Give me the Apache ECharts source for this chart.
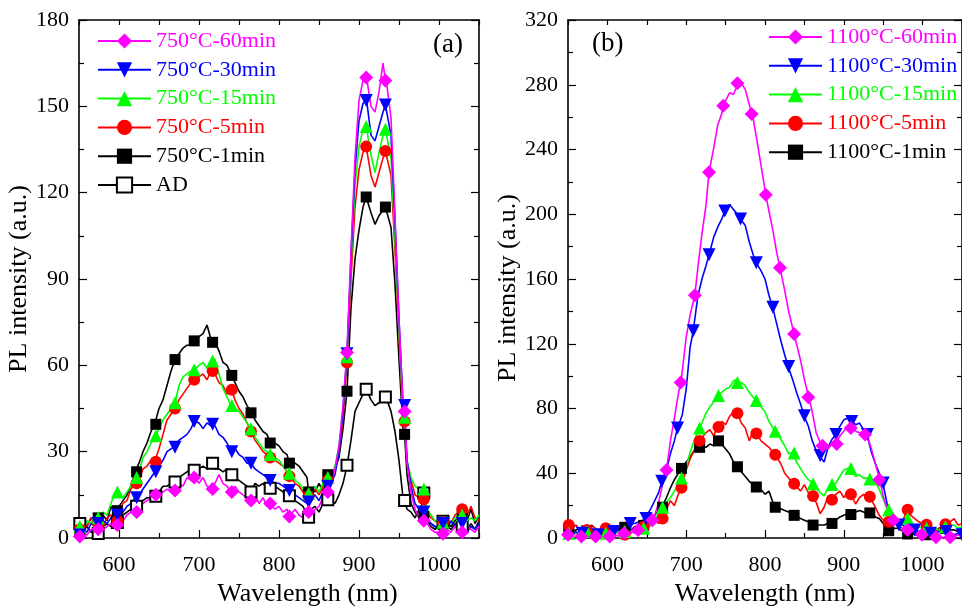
<!DOCTYPE html>
<html><head><meta charset="utf-8">
<script src="https://cdn.jsdelivr.net/npm/echarts@6/dist/echarts.min.js"></script>
<style>html,body{margin:0;padding:0;background:#fff}#c{width:962px;height:612px}</style>
</head><body><div id="c"></div><script>
// wavelength grid (nm) for the sampled spectra
const wl = [550,555,560,565,570,575,580,585,590,595,600,605,610,615,620,625,630,635,640,645,650,655,660,665,670,675,680,685,690,695,700,705,710,715,720,725,730,735,740,745,750,755,760,765,770,775,780,785,790,795,800,805,810,815,820,825,830,835,840,845,850,855,860,865,870,875,880,885,890,895,900,905,910,915,920,925,930,935,940,945,950,955,960,965,970,975,980,985,990,995,1000,1005,1010,1015,1020,1025,1030,1035,1040,1045,1050];
// marker wavelengths
const mk24 = [551,574,598,622,646,670,694,717,741,765,789,813,837,861,885,909,933,957,981,1005,1029];
const mkB30 = [568,588,608,629,649,669,689,709,729,749,769,789,810,830,850,870,890,910,930,950,970,990,1010,1030,1050];
const mkB60 = [550,567,585,603,621,639,657,675,693,711,729,747,765,783,801,819,837,855,873,891,909,927,945,963,981,999,1017,1035];

// panel (a) spectra
const a60 = [0,2,1,3,2,3,3,4,5,4, 5,6,8,9,9,11,12,13,14,15, 15,16,17,16,17,19,18,21,20,21, 19,21,18,17,19,22,19,18,16,18, 16,15,14,13,15,12,14,11,12,10, 11,9,10,8,10,8,7,9,8,10, 11,14,16,18,24,32,46,65,100,132, 152,159,159,150,148,155,165,157,146,112, 76,46,26,16,10,7,6,5,3,2, 2,1,3,2,4,3,2,4,3,2, 4];
const a30 = [1,3,2,5,4,5,6,5,7,8, 8,9,11,12,14,15,17,19,21,23, 25,27,30,31,32,34,35,36,38,40, 40,38,40,39,39,36,35,33,30,31, 29,28,26,26,24,23,22,21,20,19, 19,18,17,16,15,14,13,12,14,15, 13,16,18,19,22,30,44,64,98,128, 145,151,151,140,138,143,148,150,140,110, 76,47,27,18,12,10,9,7,5,4, 4,5,3,6,4,3,5,2,4,3, 5];
const a15 = [4,3,6,5,8,7,9,8,12,16, 15,14,16,18,20,23,28,30,33,35, 38,41,43,45,48,53,56,57,58,59, 60,61,59,62,62,57,52,49,46,45, 44,42,40,38,35,33,31,30,29,28, 27,25,23,22,20,19,17,15,16,18, 16,19,21,22,25,32,45,63,95,122, 136,142,143,133,127,134,140,142,132,104, 72,44,27,21,18,17,17,10,8,6, 6,5,6,5,7,8,8,6,7,6, 8];
const a5 = [3,6,4,7,5,6,4,7,8,7, 9,12,13,17,19,20,24,25,27,27, 31,36,41,43,45,48,50,52,54,55, 56,57,55,58,57,54,53,50,52,48, 45,43,40,37,34,32,30,29,28,27, 26,25,23,21,19,18,16,14,16,17, 15,18,20,21,24,30,42,61,90,115, 128,134,136,126,122,127,132,134,126,100, 70,42,26,20,15,14,13,9,7,6, 5,5,6,5,8,9,10,8,11,7, 6];
const a1 = [2,5,4,7,6,7,8,6,11,9, 11,13,15,18,23,26,30,33,37,40, 45,48,53,58,62,64,66,67,67,69, 70,71,74,69,68,65,61,60,57,54, 51,49,46,44,41,39,37,36,34,33, 32,30,29,27,26,25,23,21,17,16, 19,16,21,22,24,28,38,51,80,97, 107,115,118,113,109,112,114,115,108,88, 62,38,22,12,9,7,7.5,6,5,4, 3,4,5,4,6,7,8,6,10,5, 8];
const aAD = [5,3,4,2,3,2,4,5,4,6, 6,8,9,10,11,12,13,14,14,15, 16,18,18,19,20,21,22,23,24,23, 24,25,24,26,24,24,23,24,22,21, 20,19,18,16,19,18,19,17,17,18, 17,16,15,14,13,12,11,8,10,11, 9,12,13,13,12,15,19,25,34,44, 47,50,52,48,46,47,49,48,44,37, 27,14,10,9,7,10,12,6,4,3, 4,6,4,3,5,4,4,3,5,3, 6];
// panel (a) marker values (at mk24)
const a60m = [0.5,3,4.5,9,15,16.5,21,17,16,13,12,7.5,9,16,64.5,160,159,44,6,1.5,2];
const a30m = [1,5,8,14,23,31.5,40.5,39.5,30,26,20,16.5,12.5,18,64,152,150.5,46,9,5,5];
const a15m = [4,7,16,21,35.5,47,58.5,61.5,46,38,29,22.5,15.5,21,63,143,142,42,17,5.5,8];
const a5m = [3,5,6,19,26.5,45,55,58,51.5,37,28,21.5,14.5,20,61,136,134.5,40.5,13.5,5.5,10];
const a1m = [2,7,9.5,23,39.5,62,68.5,68,56.5,43.5,33,26,16,22,51,118.5,115,36,7.5,5,7.5];
const aADm = [5,1.6,5.4,11,14.5,19.5,23.5,26,22,16,17.3,14.7,7.2,13.3,25.3,51.7,49,13,15.6,5.8,4];

// panel (b) spectra
const b60 = [2,1,0,2,1,0,2,1,2,0, 1,1,2,1,3,2,4,3,5,5, 7,9,14,22,33,42,60,74,89,103, 124,138,148,168,188,205,226,241,255,262, 270,275,274,280,281,277,268,259,245,230, 215,202,190,176,166,153,140,130,120,110, 98,88,78,65,59,56,55,58,58,63, 66,69,68,66,65,64,63,55,46,37, 26,18,13,9,7,6,5,4,3,2, 2,1,0,0,1,0,1,0,1,2, 1];
const b30 = [3,2,4,2,3,1,3,2,2,3, 2,4,3,5,6,8,9,9,10,11, 14,18,23,28,35,42,52,60,68,76, 92,118,132,150,160,168,176,186,192,197, 202,206,203,200,196,193,183,175,170,165, 160,150,142,132,122,113,105,98,90,83, 75,69,60,54,50,47,56,61,64,69, 73,74,72,70,71,67,63,53,46,40, 33,21,13,11,9,8,6,7,5,4, 5,4,3,3,4,3,4,3,2,3, 2];
const b15 = [3,5,2,4,3,5,3,2,4,3, 5,2,3,4,3,5,4,6,5,6, 7,8,11,15,19,22,25,29,33,38, 44,53,60,66,71,77,81,84,88,90, 92,93,97,98,96,94,90,87,84,81, 78,72,68,65,61,57,52,53,47,43, 39,36,34,31,28,26,31,33,34,38, 42,43,43,38,39,37,37,36,35,30, 24,18,14,10,11,10,12,9,8,7, 6,6,5,6,5,6,7,8,8,6, 7];
const b5 = [9,6,8,5,7,5,8,6,4,7, 6,4,7,3,2,4,3,5,4,7, 6,8,11,9,12,18,23,20,27,34, 42,49,54,58,62,65,67,63,69,72, 70,75,78,77,71,68,60,66,64,60, 58,56,53,50,46,40,37,34,32,29, 33,28,25,22,15,19,26,24,27,29, 25,28,27,21,25,27,24,26,19,14, 11,10,9,12,9,11,17,14,12,10, 9,8,6,4,6,7,8,10,12,8, 9];
const b1 = [6,4,5,6,4,5,3,5,4,3, 4,5,4,6,7,6,5,7,8,8, 9,11,14,17,20,25,31,36,40,44, 47,50,54,56,57,56,58,57,60,58, 55,52,47,44,41,38,35,33,31,30, 27,29,22,19,18,17,16,15,14,12, 11,10,9,8,8,8,9,9,11,13, 14,15,14,16,17,16,15,15,13,12, 9,5,5,6,6,4,3,3,2,2, 2,2,3,4,5,6,6,5,5,4, 6];
// panel (b) marker values
const b60m = [2,1,1,1,3,5,11,42,96,150,226,267,281,262,212,167,126,87,57,58,68,64,36,11,5,2,0.5,0.5];
const b30m = [3,2,4,9,12,35,68,128,175,202,197,170,142.5,106,75.5,51,64,72,64,34,8,5,3,4,2];
const b15m = [3,4,3,4,6,19,37,68,88,96,85,66,52.5,33.5,33,43,36.5,17.5,12,6,7];
const b5m = [8,5,6,2,7,12,31,60,68.5,77,64.5,51.5,33.5,26,23.6,27,25.5,10,17.5,8.2,8.5];
const b1m = [5,4.5,3.5,6.6,7.8,19,43,56,60,44,31.5,19,14,8,9,14.5,15.5,4.5,2.5,2,6];

const namesA = ['750°C-60min','750°C-30min','750°C-15min','750°C-5min','750°C-1min','AD'];
const namesB = ['1100°C-60min','1100°C-30min','1100°C-15min','1100°C-5min','1100°C-1min'];
const xLabels = [600,700,800,900,1000];

const FF = 'Liberation Serif';
const C = {m:'#FF00FF', b:'#0000FF', g:'#00FF00', r:'#FF0000', k:'#000000'};

function build(dense, mWl, mVal){
  const pts = dense.map((v,i)=>({value:[wl[i], v], symbol:'none'}));
  mWl.forEach((w,j)=>pts.push({value:[w, mVal[j]]}));
  pts.sort((p,q)=>p.value[0]-q.value[0]);
  return pts;
}
function ser(name, g, dense, mWl, mVal, color, symbol, size, rot){
  return {name, type:'line', xAxisIndex:g*2, yAxisIndex:g*2, data:build(dense,mWl,mVal),
    symbol, symbolSize:size, symbolRotate:rot||0, showSymbol:true, showAllSymbol:true,
    lineStyle:{color, width:1.6}, itemStyle:{color, borderWidth: symbol==='emptyRect'?1.3:0},
    emphasis:{disabled:true}, animation:false};
}
function xAx(g, pos){
  const bottom = pos==='bottom';
  return {type:'value', gridIndex:g, position:pos, min:550, max:1050, interval:100,
    axisLine:{show:true, onZero:false, lineStyle:{color:'#000', width:1.6}},
    axisTick:{show:true, inside:true, length:5, lineStyle:{color:'#000', width:1.2}},
    minorTick:{show:true, splitNumber:2, length: bottom?8:5, lineStyle:{color:'#000', width:1.2}},
    axisLabel:{show:bottom, customValues:xLabels, formatter:v=>String(v), margin:16, fontFamily:FF, fontSize:22, color:'#000'},
    splitLine:{show:false},
    name: bottom?'Wavelength (nm)':'', nameLocation:'middle', nameGap:43,
    nameTextStyle:{fontFamily:FF, fontSize:26, color:'#000', padding: g===0?[0,0,0,57]:[0,0,0,0]}};
}
function yAx(g, pos, max, step, gap, pad){
  const left = pos==='left';
  return {type:'value', gridIndex:g, position:pos, min:0, max, interval:step,
    axisLine:{show:true, onZero:false, lineStyle:{color:'#000', width:1.6}},
    axisTick:{show:true, inside:true, length:8, lineStyle:{color:'#000', width:1.2}},
    minorTick:{show:true, splitNumber:2, length:5, lineStyle:{color:'#000', width:1.2}},
    axisLabel:{show:left, formatter:v=>String(v), margin:10, fontFamily:FF, fontSize:22, color:'#000'},
    splitLine:{show:false},
    name: left?'PL intensity (a.u.)':'', nameLocation:'middle', nameGap:gap,
    nameTextStyle:{fontFamily:FF, fontSize:26, color:'#000', padding:pad||[0,0,0,0]}};
}
function legend(names, colors, left, top){
  return {orient:'vertical', left, top, padding:0, itemWidth:53, itemHeight:19, itemGap:6.8,
    selectedMode:false,
    textStyle:{fontFamily:FF, fontSize:22, lineHeight:22},
    data: names.map((n,i)=>({name:n, textStyle:{color:colors[i]}}))};
}

const chart = echarts.init(document.getElementById('c'), null, {renderer:'canvas'});
chart.setOption({
  animation:false,
  backgroundColor:'#fff',
  grid:[{left:79, top:20, width:400, height:519}, {left:568, top:20, width:400, height:520}],
  xAxis:[xAx(0,'bottom'), xAx(0,'top'), xAx(1,'bottom'), xAx(1,'top')],
  yAxis:[yAx(0,'left',180,30,41), yAx(0,'right',180,30,0), yAx(1,'left',320,40,46,[0,18,0,0]), yAx(1,'right',320,40,0)],
  legend:[legend(namesA,[C.m,C.b,C.g,C.r,C.k,C.k],97,30), legend(namesB,[C.m,C.b,C.g,C.r,C.k],768,26)],
  graphic:[
    {type:'text', left:433, top:31, style:{text:'(a)', font:'27px "Liberation Serif"', fill:'#000'}},
    {type:'text', left:592, top:30, style:{text:'(b)', font:'27px "Liberation Serif"', fill:'#000'}}
  ],
  series:[
    ser(namesA[5],0,aAD,mk24,aADm,C.k,'emptyRect',11),
    ser(namesA[4],0,a1,mk24,a1m,C.k,'rect',11),
    ser(namesA[3],0,a5,mk24,a5m,C.r,'circle',12),
    ser(namesA[2],0,a15,mk24,a15m,C.g,'triangle',13),
    ser(namesA[1],0,a30,mk24,a30m,C.b,'triangle',13,180),
    ser(namesA[0],0,a60,mk24,a60m,C.m,'diamond',14),
    ser(namesB[4],1,b1,mk24,b1m,C.k,'rect',11),
    ser(namesB[3],1,b5,mk24,b5m,C.r,'circle',12),
    ser(namesB[2],1,b15,mk24,b15m,C.g,'triangle',13),
    ser(namesB[1],1,b30,mkB30,b30m,C.b,'triangle',13,180),
    ser(namesB[0],1,b60,mkB60,b60m,C.m,'diamond',14)
  ]
});
</script></body></html>
